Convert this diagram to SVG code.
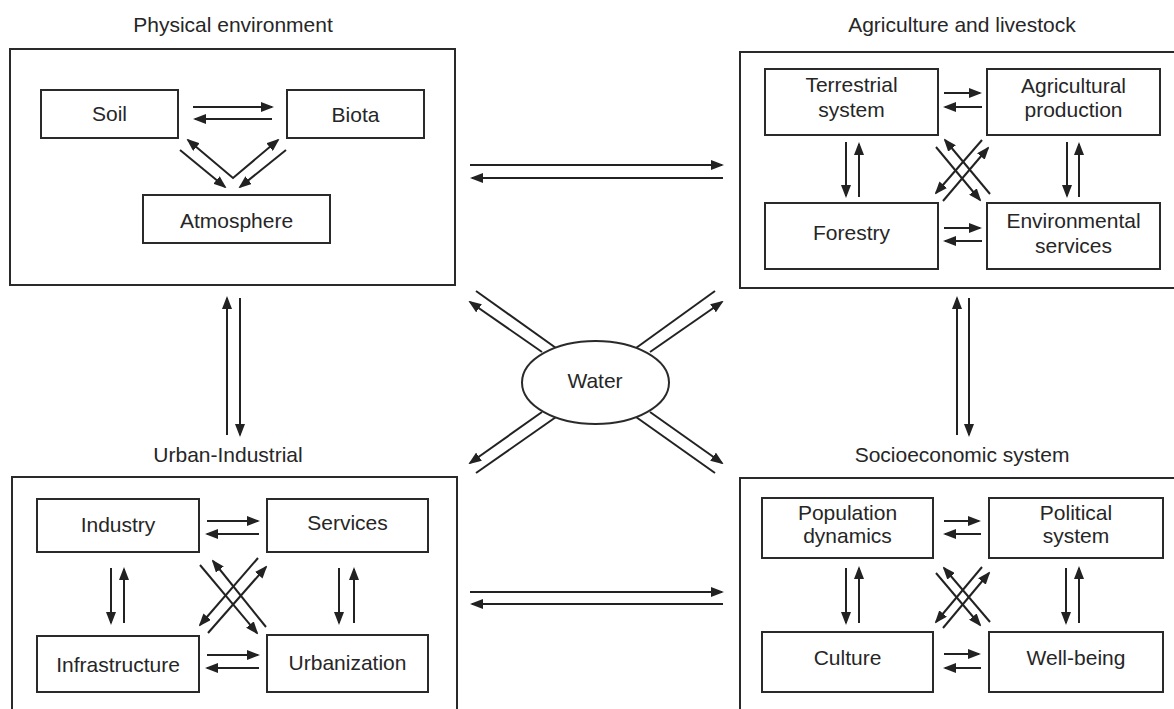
<svg xmlns="http://www.w3.org/2000/svg" width="1174" height="709" viewBox="0 0 1174 709">
  <defs>
    <marker id="head" viewBox="0 0 13 10" refX="11" refY="5" markerWidth="13" markerHeight="10" markerUnits="userSpaceOnUse" orient="auto-start-reverse">
      <path d="M0,0 L13,5 L0,10 z" fill="#222"/>
    </marker>
    <style>
      .frame { fill: none; stroke: #2a2a2a; stroke-width: 2; }
      .box { fill: #fff; stroke: #2a2a2a; stroke-width: 2; }
      .title, .label { font-family: "Liberation Sans", Arial, sans-serif; font-size: 21px; fill: #262626; text-anchor: middle; }
      .arr { fill: none; stroke: #222; stroke-width: 2; marker-end: url(#head); }
      .bi { fill: none; stroke: #222; stroke-width: 2; marker-start: url(#head); marker-end: url(#head); }
      .plain { fill: none; stroke: #222; stroke-width: 2; }
    </style>
  </defs>
  <rect width="1174" height="709" fill="#fff"/>

  <!-- subsystem frames with their headings -->
  <g id="physical-environment">
    <rect class="frame" x="10" y="49" width="445" height="236"/>
    <text class="title" x="233" y="32">Physical environment</text>
  </g>
  <g id="agriculture-livestock">
    <rect class="frame" x="740" y="52" width="445" height="236"/>
    <text class="title" x="962" y="32">Agriculture and livestock</text>
  </g>
  <g id="urban-industrial">
    <rect class="frame" x="12" y="477" width="445" height="250"/>
    <text class="title" x="228" y="462">Urban-Industrial</text>
  </g>
  <g id="socioeconomic-system">
    <rect class="frame" x="740" y="478" width="445" height="250"/>
    <text class="title" x="962" y="462">Socioeconomic system</text>
  </g>

  <!-- connectors -->
  <g id="connectors">
    <!-- physical environment internals -->
    <line class="arr" x1="193" y1="107" x2="272" y2="107"/>
    <line class="arr" x1="272" y1="119" x2="195" y2="119"/>
    <line class="arr" x1="180" y1="150" x2="225" y2="187"/>
    <polyline class="bi" points="188,140 233,178 278,140"/>
    <line class="arr" x1="286" y1="150" x2="240" y2="187"/>

    <!-- between frames -->
    <line class="arr" x1="470" y1="165" x2="722" y2="165"/>
    <line class="arr" x1="723" y1="178" x2="472" y2="178"/>
    <line class="arr" x1="470" y1="592" x2="722" y2="592"/>
    <line class="arr" x1="723" y1="604" x2="472" y2="604"/>
    <line class="arr" x1="227" y1="435" x2="227" y2="298"/>
    <line class="arr" x1="240" y1="298" x2="240" y2="435"/>
    <line class="arr" x1="957" y1="435" x2="957" y2="298"/>
    <line class="arr" x1="969" y1="298" x2="969" y2="435"/>

    <!-- water links -->
    <line class="plain" x1="476" y1="291" x2="556" y2="348"/>
    <line class="arr" x1="542" y1="352" x2="470" y2="302"/>
    <line class="plain" x1="636" y1="348" x2="715" y2="291"/>
    <line class="arr" x1="650" y1="352" x2="722" y2="302"/>
    <line class="arr" x1="542" y1="412" x2="470" y2="463"/>
    <line class="plain" x1="556" y1="417" x2="476" y2="473"/>
    <line class="arr" x1="650" y1="412" x2="722" y2="463"/>
    <line class="plain" x1="636" y1="417" x2="715" y2="473"/>

    <!-- agriculture and livestock internals -->
    <line class="arr" x1="944" y1="93" x2="980" y2="93"/>
    <line class="arr" x1="982" y1="107" x2="945" y2="107"/>
    <line class="arr" x1="944" y1="228" x2="980" y2="228"/>
    <line class="arr" x1="982" y1="241" x2="945" y2="241"/>
    <line class="arr" x1="846" y1="142" x2="846" y2="196"/>
    <line class="arr" x1="859" y1="197" x2="859" y2="144"/>
    <line class="arr" x1="1067" y1="142" x2="1067" y2="196"/>
    <line class="arr" x1="1079" y1="197" x2="1079" y2="144"/>
    <line class="arr" x1="936" y1="147" x2="980" y2="200"/>
    <line class="arr" x1="990" y1="194" x2="945" y2="140"/>
    <line class="arr" x1="943" y1="201" x2="988" y2="148"/>
    <line class="arr" x1="982" y1="140" x2="936" y2="193"/>

    <!-- urban-industrial internals -->
    <line class="arr" x1="207" y1="521" x2="258" y2="521"/>
    <line class="arr" x1="259" y1="534" x2="207" y2="534"/>
    <line class="arr" x1="207" y1="655" x2="258" y2="655"/>
    <line class="arr" x1="259" y1="668" x2="207" y2="668"/>
    <line class="arr" x1="111" y1="568" x2="111" y2="623"/>
    <line class="arr" x1="124" y1="623" x2="124" y2="569"/>
    <line class="arr" x1="339" y1="568" x2="339" y2="623"/>
    <line class="arr" x1="354" y1="623" x2="354" y2="569"/>
    <line class="arr" x1="200" y1="565" x2="257" y2="633"/>
    <line class="arr" x1="266" y1="627" x2="213" y2="561"/>
    <line class="arr" x1="208" y1="633" x2="266" y2="567"/>
    <line class="arr" x1="258" y1="558" x2="200" y2="625"/>

    <!-- socioeconomic internals -->
    <line class="arr" x1="944" y1="521" x2="979" y2="521"/>
    <line class="arr" x1="981" y1="534" x2="945" y2="534"/>
    <line class="arr" x1="944" y1="654" x2="979" y2="654"/>
    <line class="arr" x1="981" y1="668" x2="945" y2="668"/>
    <line class="arr" x1="846" y1="568" x2="846" y2="623"/>
    <line class="arr" x1="859" y1="623" x2="859" y2="568"/>
    <line class="arr" x1="1066" y1="568" x2="1066" y2="623"/>
    <line class="arr" x1="1079" y1="623" x2="1079" y2="568"/>
    <line class="arr" x1="936" y1="573" x2="980" y2="625"/>
    <line class="arr" x1="990" y1="622" x2="944" y2="568"/>
    <line class="arr" x1="943" y1="628" x2="989" y2="573"/>
    <line class="arr" x1="982" y1="567" x2="936" y2="622"/>
  </g>

  <!-- physical environment nodes -->
  <g id="soil">
    <rect class="box" x="41" y="90" width="137" height="48"/>
    <text class="label" x="109.5" y="121">Soil</text>
  </g>
  <g id="biota">
    <rect class="box" x="287" y="90" width="137" height="48"/>
    <text class="label" x="355.5" y="122">Biota</text>
  </g>
  <g id="atmosphere">
    <rect class="box" x="143" y="195" width="187" height="48"/>
    <text class="label" x="236.5" y="228">Atmosphere</text>
  </g>

  <!-- agriculture and livestock nodes -->
  <g id="terrestrial-system">
    <rect class="box" x="765" y="69" width="173" height="66"/>
    <text class="label" x="851.5" y="92">Terrestrial</text>
    <text class="label" x="851.5" y="117">system</text>
  </g>
  <g id="agricultural-production">
    <rect class="box" x="987" y="69" width="173" height="66"/>
    <text class="label" x="1073.5" y="93">Agricultural</text>
    <text class="label" x="1073.5" y="117">production</text>
  </g>
  <g id="forestry">
    <rect class="box" x="765" y="203" width="173" height="66"/>
    <text class="label" x="851.5" y="240">Forestry</text>
  </g>
  <g id="environmental-services">
    <rect class="box" x="987" y="203" width="173" height="66"/>
    <text class="label" x="1073.5" y="228">Environmental</text>
    <text class="label" x="1073.5" y="253">services</text>
  </g>

  <!-- urban-industrial nodes -->
  <g id="industry">
    <rect class="box" x="37" y="499" width="162" height="53"/>
    <text class="label" x="118" y="532">Industry</text>
  </g>
  <g id="services">
    <rect class="box" x="267" y="499" width="161" height="53"/>
    <text class="label" x="347.5" y="530">Services</text>
  </g>
  <g id="infrastructure">
    <rect class="box" x="37" y="636" width="162" height="56"/>
    <text class="label" x="118" y="672">Infrastructure</text>
  </g>
  <g id="urbanization">
    <rect class="box" x="267" y="635" width="161" height="57"/>
    <text class="label" x="347.5" y="670">Urbanization</text>
  </g>

  <!-- socioeconomic nodes -->
  <g id="population-dynamics">
    <rect class="box" x="762" y="498" width="171" height="60"/>
    <text class="label" x="847.5" y="520">Population</text>
    <text class="label" x="847.5" y="543">dynamics</text>
  </g>
  <g id="political-system">
    <rect class="box" x="989" y="498" width="174" height="60"/>
    <text class="label" x="1076" y="520">Political</text>
    <text class="label" x="1076" y="543">system</text>
  </g>
  <g id="culture">
    <rect class="box" x="762" y="632" width="171" height="60"/>
    <text class="label" x="847.5" y="665">Culture</text>
  </g>
  <g id="well-being">
    <rect class="box" x="989" y="632" width="174" height="60"/>
    <text class="label" x="1076" y="665">Well-being</text>
  </g>

  <!-- central hub -->
  <g id="water">
    <ellipse cx="595.5" cy="382.5" rx="73.5" ry="41.5" fill="#fff" stroke="#2a2a2a" stroke-width="2"/>
    <text class="label" x="595" y="388">Water</text>
  </g>
</svg>
